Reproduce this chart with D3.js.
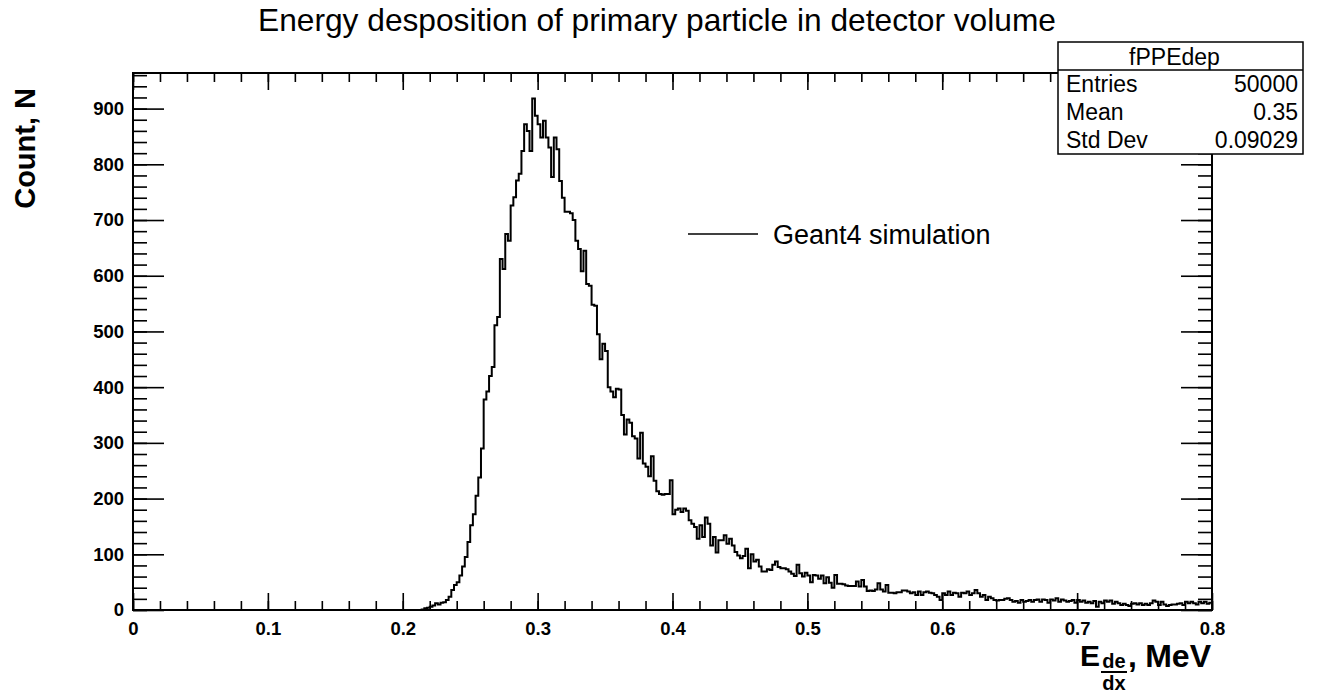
<!DOCTYPE html>
<html>
<head>
<meta charset="utf-8">
<script src="https://cdn.jsdelivr.net/npm/d3@7"></script>
<style>
  body { margin: 0; background: #fff; }
  svg text { font-family: "Liberation Sans", Arial, Helvetica, sans-serif; fill: #000; }
</style>
</head>
<body>
<div id="chart"></div>
<script>
// fPPEdep histogram: 400 bins between 0 and 0.8 MeV
// bins below firstBin are empty
var xMin = 0, xMax = 0.8, nBins = 400;
var firstBin = 105;

var counts = [
  0, 0, 1,
  3, 4, 6, 8, 12, 10, 13, 14, 18, 24, 36, 45, 50, 62, 78, 95, 122, 152, 172, 205, 238, 290, 378,
  392, 420, 436, 511, 526, 630, 612, 675, 663, 726,
  741, 771, 783, 824, 872, 860, 824, 918, 887, 872,
  848, 878, 848, 830, 777, 848, 827, 770, 740, 715,
  715, 712, 700, 663, 648, 608, 645, 585, 582, 548,
  546, 495, 450, 478, 465, 400, 392, 382, 397, 396,
  350, 315, 342, 336, 312, 308, 272, 318, 263, 257,
  240, 276, 232, 213, 208, 207, 208, 208, 233, 172,
  180, 182, 176, 182, 178, 161, 155, 149, 128, 152,
  131, 166, 155, 116, 131, 103, 125, 125, 134, 119,
  128, 116, 104, 98, 93, 97, 110, 75, 100, 87,
  90, 78, 69, 69, 73, 72, 81, 87, 77, 75,
  75, 73, 69, 65, 61, 81, 66, 60, 67, 62,
  50, 63, 62, 56, 62, 48, 59, 49, 40, 63,
  47, 47, 46, 44, 43, 43, 43, 51, 42, 54,
  42, 34, 35, 34, 37, 48, 37, 33, 45, 31,
  31, 30, 32, 32, 35, 35, 33, 30, 32, 27,
  33, 27, 32,
  33, 31, 30, 27, 24, 18, 30, 27, 33, 27,
  31, 30, 24, 31, 30, 33, 27, 30, 36, 30,
  24, 27, 18, 24, 21, 18, 17, 18, 18, 20,
  21, 18, 15, 16, 13, 18, 15, 16, 18, 15,
  18, 19, 15, 19, 18, 13, 19, 17, 21, 15,
  19, 17, 15, 16, 18, 13, 18, 15, 17, 13,
  15, 12, 16, 6, 15, 12, 17, 15, 17, 11,
  15, 12, 9, 11, 9, 7, 11, 12, 10, 12,
  9, 11, 9, 12, 17, 15, 9, 15, 10, 7,
  9, 10, 10, 11, 12, 9, 15, 12, 15, 12,
  10, 15, 12, 15, 11, 13
];

var xTicks = [0, 0.1, 0.2, 0.3, 0.4, 0.5, 0.6, 0.7, 0.8];
var xTickLabels = ["0", "0.1", "0.2", "0.3", "0.4", "0.5", "0.6", "0.7", "0.8"];
var yTicks = [0, 100, 200, 300, 400, 500, 600, 700, 800, 900];

var histName = "fPPEdep";
var statNames = ["Entries", "Mean", "Std Dev"];
var statValues = ["50000", "0.35", "0.09029"];
var legendLabel = "Geant4 simulation";
var title = "Energy desposition of primary particle in detector volume";

var W = 1333, H = 695;
var margin = { top: 73, right: 121, bottom: 85, left: 133 };
var width = W - margin.left - margin.right,
    height = H - margin.top - margin.bottom;

var svg = d3.select("#chart").append("svg")
    .attr("width", W)
    .attr("height", H);

var g = svg.append("g")
    .attr("transform", "translate(" + margin.left + "," + margin.top + ")");

var binWidth = (xMax - xMin) / nBins;
var bins = [];
for (var i = 0; i < nBins; i++) {
    var c = (i < firstBin) ? 0 : counts[i - firstBin];
    bins.push({ lo: xMin + i * binWidth, hi: xMin + (i + 1) * binWidth, n: c });
}

var x = d3.scaleLinear().domain([xMin, xMax]).range([0, width]);
var y = d3.scaleLinear().domain([0, d3.max(counts) * 1.05]).range([height, 0]);

// minor ticks
var xMinor = d3.range(0, 41).map(d => d * 0.02);
var yMinor = d3.range(0, 49).map(d => d * 20).filter(d => d <= y.domain()[1]);

function styleAxis(sel) {
    sel.select(".domain").remove();
    sel.selectAll("line").attr("stroke", "#000").attr("stroke-width", 1.6);
}

// bottom
g.append("g").attr("transform", "translate(0," + height + ")")
    .call(d3.axisBottom(x).tickValues(xMinor).tickSizeInner(-9).tickSizeOuter(0).tickFormat(""))
    .call(styleAxis);
g.append("g").attr("transform", "translate(0," + height + ")")
    .call(d3.axisBottom(x).tickValues(xTicks).tickSizeInner(-17).tickSizeOuter(0).tickPadding(12)
        .tickFormat((d, i) => xTickLabels[i]))
    .call(styleAxis)
    .selectAll("text")
    .style("font-size", "18.5px").style("font-weight", "bold");

// top
g.append("g")
    .call(d3.axisTop(x).tickValues(xMinor).tickSizeInner(-9).tickSizeOuter(0).tickFormat(""))
    .call(styleAxis);
g.append("g")
    .call(d3.axisTop(x).tickValues(xTicks).tickSizeInner(-17).tickSizeOuter(0).tickFormat(""))
    .call(styleAxis);

// left
g.append("g")
    .call(d3.axisLeft(y).tickValues(yMinor).tickSizeInner(-14).tickSizeOuter(0).tickFormat(""))
    .call(styleAxis);
g.append("g")
    .call(d3.axisLeft(y).tickValues(yTicks).tickSizeInner(-31).tickSizeOuter(0).tickPadding(9))
    .call(styleAxis)
    .selectAll("text")
    .style("font-size", "18.5px").style("font-weight", "bold");

// right
g.append("g").attr("transform", "translate(" + width + ",0)")
    .call(d3.axisRight(y).tickValues(yMinor).tickSizeInner(-14).tickSizeOuter(0).tickFormat(""))
    .call(styleAxis);
g.append("g").attr("transform", "translate(" + width + ",0)")
    .call(d3.axisRight(y).tickValues(yTicks).tickSizeInner(-31).tickSizeOuter(0).tickFormat(""))
    .call(styleAxis);

// frame
g.append("rect")
    .attr("width", width).attr("height", height)
    .attr("fill", "none").attr("stroke", "#000").attr("stroke-width", 2);

// histogram outline
var pts = bins.map(d => [d.lo, d.n]);
pts.push([xMax, bins[nBins - 1].n]);

var line = d3.line()
    .x(d => x(d[0]))
    .y(d => y(d[1]))
    .curve(d3.curveStepAfter);

g.append("path")
    .datum(pts)
    .attr("d", line)
    .attr("fill", "none")
    .attr("stroke", "#000")
    .attr("stroke-width", 2);

// legend
svg.append("line")
    .attr("x1", 688).attr("x2", 758).attr("y1", 234).attr("y2", 234)
    .attr("stroke", "#000").attr("stroke-width", 1.6);
svg.append("text")
    .attr("x", 773).attr("y", 244)
    .style("font-size", "27px")
    .text(legendLabel);

// stats box
var box = svg.append("g").attr("transform", "translate(1058,42)");
var boxW = 245, headH = 28, rowH = 28;
box.append("rect")
    .attr("width", boxW).attr("height", headH + rowH * statNames.length)
    .attr("fill", "#fff").attr("stroke", "#000").attr("stroke-width", 1.5);
box.append("line")
    .attr("x1", 0).attr("x2", boxW).attr("y1", headH).attr("y2", headH)
    .attr("stroke", "#000").attr("stroke-width", 1.5);
box.append("text")
    .attr("x", boxW / 2 - 6).attr("y", headH - 5)
    .attr("text-anchor", "middle")
    .style("font-size", "23px")
    .text(histName);
statNames.forEach(function(s, i) {
    box.append("text")
        .attr("x", 8).attr("y", headH + rowH * (i + 1) - 6)
        .style("font-size", "23px")
        .text(s);
    box.append("text")
        .attr("x", boxW - 5).attr("y", headH + rowH * (i + 1) - 6)
        .attr("text-anchor", "end")
        .style("font-size", "23px")
        .text(statValues[i]);
});

// title
svg.append("text")
    .attr("x", 657).attr("y", 31)
    .attr("text-anchor", "middle")
    .style("font-size", "31.7px")
    .text(title);

// axis titles
svg.append("text")
    .attr("transform", "translate(35,88) rotate(-90)")
    .attr("text-anchor", "end")
    .style("font-size", "29px").style("font-weight", "bold")
    .text("Count, N");

var xt = svg.append("g").style("font-weight", "bold");
xt.append("text").attr("x", 1080).attr("y", 666).style("font-size", "30px").text("E");
xt.append("text").attr("x", 1114).attr("y", 668).attr("text-anchor", "middle").style("font-size", "20px").text("de");
xt.append("line").attr("x1", 1101).attr("x2", 1127).attr("y1", 672).attr("y2", 672)
    .attr("stroke", "#000").attr("stroke-width", 2);
xt.append("text").attr("x", 1114).attr("y", 690).attr("text-anchor", "middle").style("font-size", "20px").text("dx");
xt.append("text").attr("x", 1128).attr("y", 667).style("font-size", "32px").text(",");
xt.append("text").attr("x", 1211).attr("y", 667).attr("text-anchor", "end").style("font-size", "32px").text("MeV");
</script>
</body>
</html>
